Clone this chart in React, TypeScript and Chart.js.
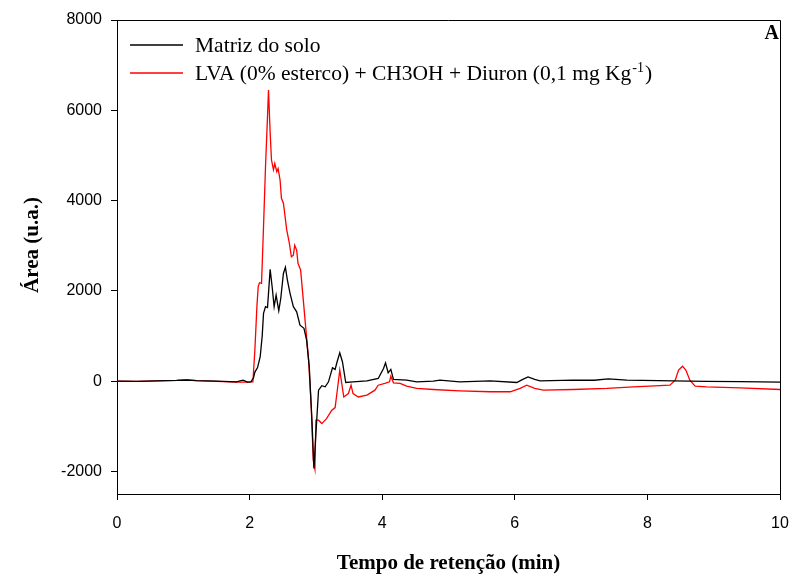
import React, { useEffect, useRef } from "react";
import { Chart, registerables } from "chart.js";

Chart.register(...registerables);

const blackTime = [0, 0.3, 0.6, 0.9, 1.05, 1.2, 1.5, 1.8, 1.9, 1.97, 2.02, 2.06, 2.08, 2.12, 2.16, 2.19, 2.21, 2.24, 2.27, 2.31, 2.34, 2.37, 2.4, 2.44, 2.47, 2.51, 2.54, 2.57, 2.61, 2.66, 2.71, 2.76, 2.82, 2.86, 2.9, 2.94, 2.97, 3.0, 3.04, 3.09, 3.14, 3.19, 3.25, 3.29, 3.32, 3.36, 3.4, 3.45, 3.56, 3.77, 3.94, 4.02, 4.05, 4.09, 4.13, 4.17, 4.37, 4.52, 4.77, 4.87, 5.17, 5.63, 6.03, 6.12, 6.2, 6.3, 6.38, 6.88, 7.2, 7.41, 7.69, 8.39, 8.89, 9.4, 10];
const blackArea = [0, -5, 5, 15, 25, 10, 0, -15, 20, -20, -15, 80, 200, 300, 540, 1000, 1500, 1650, 1630, 2475, 2090, 1650, 1905, 1560, 1830, 2385, 2520, 2240, 1945, 1650, 1535, 1240, 1170, 910, 317, -865, -1935, -1160, -200, -100, -125, -15, 295, 260, 430, 630, 430, -30, -15, 7, 60, 280, 405, 185, 260, 38, 22, -15, 0, 22, -15, 7, -30, 40, 95, 40, 7, 22, 20, 52, 22, 7, -7, -10, -22];

const redTime = [0, 0.3, 0.6, 0.9, 1.05, 1.2, 1.5, 1.8, 1.97, 2.02, 2.05, 2.08, 2.11, 2.13, 2.15, 2.18, 2.21, 2.24, 2.27, 2.285, 2.31, 2.33, 2.36, 2.38, 2.41, 2.43, 2.46, 2.48, 2.51, 2.56, 2.6, 2.63, 2.66, 2.68, 2.71, 2.73, 2.77, 2.81, 2.85, 2.89, 2.93, 2.96, 2.985, 3.0, 3.04, 3.09, 3.16, 3.24, 3.29, 3.32, 3.36, 3.39, 3.42, 3.49, 3.53, 3.56, 3.64, 3.77, 3.89, 3.94, 4.04, 4.11, 4.13, 4.17, 4.27, 4.37, 4.52, 4.77, 5.17, 5.63, 5.93, 6.08, 6.18, 6.3, 6.43, 6.88, 7.39, 7.79, 8.34, 8.42, 8.47, 8.53, 8.58, 8.64, 8.72, 8.89, 9.4, 10];
const redArea = [0, -5, 5, 15, 30, 10, -5, -20, -20, -15, -15, 700, 1650, 2100, 2180, 2165, 3420, 4750, 5860, 6450, 5500, 4900, 4680, 4820, 4640, 4710, 4450, 4050, 3940, 3350, 3050, 2755, 2790, 3010, 2900, 2610, 2460, 1795, 1130, 465, -570, -1750, -1950, -865, -865, -940, -830, -645, -585, -235, 245, -50, -350, -275, -90, -275, -350, -310, -200, -90, -50, -15, 110, -38, -50, -110, -160, -185, -215, -235, -235, -160, -90, -160, -200, -185, -160, -125, -90, 22, 245, 330, 245, 22, -110, -125, -150, -185];

const yTickValues = [-2000, 0, 2000, 4000, 6000, 8000];
const xTickValues = [0, 2, 4, 6, 8, 10];

const seriesNames = ["Matriz do solo", "LVA (0% esterco) + CH3OH + Diuron (0,1 mg Kg", "-1", ")"];
const panelLabel = "A";
const xTitle = "Tempo de retenção (min)";
const yTitle = "Área (u.a.)";

const serif = "'Liberation Serif', 'Times New Roman', serif";
const sans = "'Liberation Sans', Arial, sans-serif";

const framePlugin = {
  id: "frameAndLegend",
  afterDraw(chart: any) {
    const { ctx, chartArea } = chart;
    const { left, right, top, bottom } = chartArea;
    ctx.save();
    ctx.strokeStyle = "#000";
    ctx.lineWidth = 1;
    ctx.beginPath();
    ctx.moveTo(left, top + 0.5);
    ctx.lineTo(right + 0.5, top + 0.5);
    ctx.lineTo(right + 0.5, bottom);
    ctx.stroke();

    // legend
    const lx0 = 130, lx1 = 183, tx = 195;
    const y1 = 45, y2 = 73;
    ctx.lineWidth = 1.3;
    ctx.strokeStyle = "#000";
    ctx.beginPath();
    ctx.moveTo(lx0, y1);
    ctx.lineTo(lx1, y1);
    ctx.stroke();
    ctx.strokeStyle = "#ff0000";
    ctx.beginPath();
    ctx.moveTo(lx0, y2);
    ctx.lineTo(lx1, y2);
    ctx.stroke();

    ctx.fillStyle = "#000";
    ctx.textBaseline = "alphabetic";
    ctx.textAlign = "left";
    ctx.font = `21.5px ${serif}`;
    ctx.fillText(seriesNames[0], tx, y1 + 7);
    ctx.fillText(seriesNames[1], tx, y2 + 7);
    const w = ctx.measureText(seriesNames[1]).width;
    ctx.font = `14px ${serif}`;
    ctx.fillText(seriesNames[2], tx + w + 1, y2 - 1);
    const w2 = ctx.measureText(seriesNames[2]).width;
    ctx.font = `21.5px ${serif}`;
    ctx.fillText(seriesNames[3], tx + w + w2 + 2, y2 + 7);

    ctx.font = `bold 20px ${serif}`;
    ctx.textAlign = "right";
    ctx.fillText(panelLabel, right - 1, 39);

    // y axis title
    ctx.translate(33, 245);
    ctx.rotate(-Math.PI / 2);
    ctx.textAlign = "center";
    ctx.textBaseline = "middle";
    ctx.font = `bold 21px ${serif}`;
    ctx.fillText(yTitle, 0, 0);
    ctx.restore();
  },
};

export default function App() {
  const ref = useRef<HTMLCanvasElement | null>(null);
  useEffect(() => {
    if (!ref.current) return;
    const toPts = (t: number[], v: number[]) => t.map((x, i) => ({ x, y: v[i] }));
    const chart = new Chart(ref.current, {
      type: "line",
      data: {
        datasets: [
          {
            label: seriesNames[0],
            data: toPts(blackTime, blackArea),
            borderColor: "#000000",
            borderWidth: 1.3,
            pointRadius: 0,
            tension: 0,
          },
          {
            label: "LVA (0% esterco) + CH3OH + Diuron (0,1 mg Kg-1)",
            data: toPts(redTime, redArea),
            borderColor: "#ff0000",
            borderWidth: 1.3,
            pointRadius: 0,
            tension: 0,
          },
        ],
      },
      options: {
        animation: false,
        responsive: false,
        maintainAspectRatio: false,
        layout: { padding: { top: 20, right: 14, left: 0, bottom: 0 } },
        plugins: { legend: { display: false }, tooltip: { enabled: false } },
        scales: {
          x: {
            type: "linear",
            min: 0,
            max: 10,
            afterBuildTicks: (s: any) => {
              s.ticks = xTickValues.map((v) => ({ value: v }));
            },
            afterFit: (s: any) => {
              s.height = 82;
              s.paddingLeft = 0;
              s.paddingRight = 0;
            },
            grid: { drawOnChartArea: false, drawTicks: true, tickLength: 6, color: "#000" },
            border: { display: true, color: "#000", width: 1 },
            ticks: { color: "#000", font: { family: sans, size: 16 }, padding: 14, maxRotation: 0 },
            title: {
              display: true,
              text: xTitle,
              color: "#000",
              font: { family: serif, size: 21, weight: "bold" },
              padding: { top: 14, bottom: 0 },
            },
          },
          y: {
            type: "linear",
            min: -2500,
            max: 8000,
            afterBuildTicks: (s: any) => {
              s.ticks = yTickValues.map((v) => ({ value: v }));
            },
            afterFit: (s: any) => {
              s.width = 117;
              s.paddingTop = 0;
              s.paddingBottom = 0;
            },
            grid: { drawOnChartArea: false, drawTicks: true, tickLength: 6, color: "#000" },
            border: { display: true, color: "#000", width: 1 },
            ticks: { color: "#000", font: { family: sans, size: 16 }, padding: 9, callback: (v: any) => String(v) },
            title: { display: false },
          },
        },
      },
      plugins: [framePlugin],
    } as any);
    return () => chart.destroy();
  }, []);
  return (
    <div style={{ position: "fixed", left: 0, top: 0, width: 794, height: 576, background: "#fff" }}>
      <canvas ref={ref} width={794} height={576} style={{ width: 794, height: 576 }} />
    </div>
  );
}
